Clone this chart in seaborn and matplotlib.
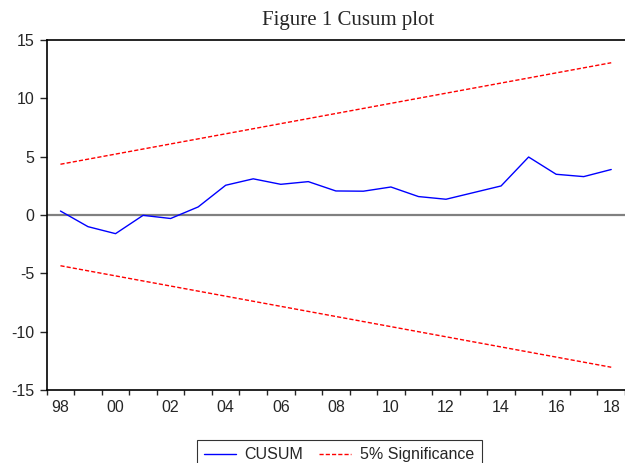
import pandas as pd
import matplotlib
matplotlib.use("Agg")
import matplotlib.pyplot as plt
import seaborn as sns

# CUSUM test values
years = list(range(1998, 2019))
cusum = [0.34, -1.0, -1.6, -0.03, -0.3, 0.69, 2.55, 3.1, 2.63, 2.86, 2.06,
         2.04, 2.4, 1.58, 1.35, 1.92, 2.49, 4.97, 3.49, 3.29, 3.9]

# 5% significance bounds (straight lines)
band_years = [1998, 2018]
upper = [4.35, 13.05]
lower = [-4.35, -13.05]

tick_labels = ["98", "00", "02", "04", "06", "08", "10", "12", "14", "16", "18"]

sns.set_style("ticks")
plt.rcParams["font.family"] = ["Liberation Sans", "DejaVu Sans"]
plt.rcParams["axes.unicode_minus"] = False

df = pd.DataFrame({"year": years, "cusum": cusum})
bands = pd.DataFrame({"year": band_years, "upper": upper, "lower": lower})

fig = plt.figure(figsize=(6.25, 4.63), dpi=100)
ax = fig.add_axes([0.0747, 0.1577, 0.9253, 0.7559])

ax.axhline(0, color="#808080", lw=1.6, zorder=1)
sns.lineplot(data=df, x="year", y="cusum", ax=ax, color="#0000ff", lw=1.0,
             label="CUSUM", zorder=3)
sns.lineplot(data=bands, x="year", y="upper", ax=ax, color="#ff0000", lw=1.0,
             linestyle=(0, (3, 1.5)), label="5% Significance", zorder=2)
sns.lineplot(data=bands, x="year", y="lower", ax=ax, color="#ff0000", lw=1.0,
             linestyle=(0, (3, 1.5)), zorder=2)

ax.set_xlim(1997.5, 2018.38)
ax.set_ylim(-15, 15)
ax.set_yticks([-15, -10, -5, 0, 5, 10, 15])
ax.set_xticks(years[::2])
ax.set_xticklabels(tick_labels)
ax.set_xticks([y - 0.5 for y in years] + [2018.5], minor=True)
ax.tick_params(axis="x", which="major", length=0, pad=7, labelsize=11.5)
ax.tick_params(axis="x", which="minor", length=3.6, width=1, direction="out")
ax.tick_params(axis="y", length=5, width=1, direction="out", labelsize=11.5, pad=4)
ax.set_xlabel("")
ax.set_ylabel("")

for s in ["top", "left", "bottom"]:
    ax.spines[s].set_linewidth(1.2)
    ax.spines[s].set_color("black")
ax.spines["right"].set_visible(False)

fig.text(348.5 / 625, 1 - 25 / 463, "Figure 1 Cusum plot",
         family="Liberation Serif", fontsize=15, ha="center", va="baseline")

ax.legend().remove()
handles, labels = ax.get_legend_handles_labels()
leg = fig.legend(handles, labels, loc="upper left", ncol=2,
                 bbox_to_anchor=(196.7 / 625, 1 - 440 / 463), frameon=True,
                 fancybox=False, edgecolor="black", fontsize=11.5,
                 handlelength=2.0, borderpad=0.45, borderaxespad=0,
                 columnspacing=1.0, handletextpad=0.55)
leg.get_frame().set_linewidth(0.8)

fig.savefig("out.png", dpi=100)
